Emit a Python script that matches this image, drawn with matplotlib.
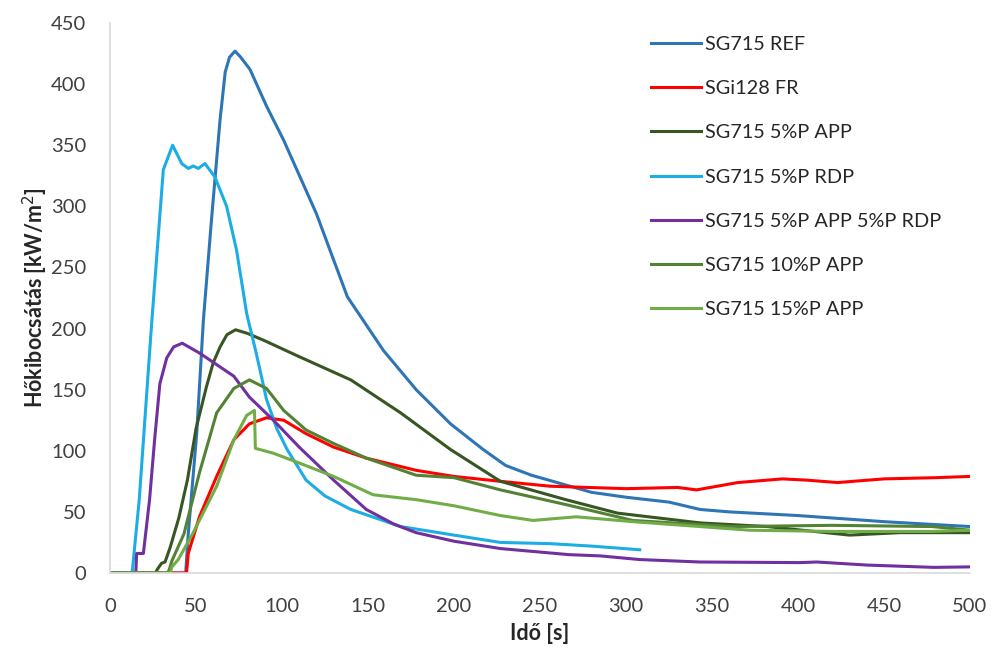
import matplotlib.pyplot as plt

plt.rcParams['font.family'] = ['Lato', 'DejaVu Sans']

# SG715 REF
ref_t = [0, 44, 45.5, 50.4, 54.3, 59, 64, 67, 69.5, 72.7, 76, 81.4, 91, 101, 120, 138, 159, 178, 198,
         217, 230, 245, 260, 280, 300, 325, 343, 360, 400, 450, 500]
ref_q = [0, 0, 32, 114, 207, 289, 371, 410, 422, 427, 422, 412, 382, 354, 294, 226, 182, 150, 122,
         101, 88, 80, 74, 66, 62, 58, 52, 50, 47, 42, 38]

# SGi128 FR
fr_t = [0, 44.5, 45.5, 52, 62, 72, 81, 91, 101, 114, 130, 149, 178, 200, 227, 256, 300, 330, 341,
        365, 391, 405, 423, 450, 480, 500]
fr_q = [0, 0, 16, 46, 79, 109, 122, 127, 125, 114, 103, 94, 84, 79, 75, 71, 69, 70, 68,
        74, 77, 76, 74, 77, 78, 79]

# SG715 5%P APP
app5_t = [0, 26.5, 27.5, 30, 32, 35, 40, 45, 50, 56, 60, 64, 68, 73, 80, 90, 110, 140, 169, 198,
          227, 265, 295, 343, 382, 430, 459, 500]
app5_q = [0, 0, 3, 8, 9, 21, 45, 76, 118, 152, 172, 185, 195, 199, 196, 190, 177, 158, 131, 101,
          75, 60, 49, 41, 38, 31, 33, 33]

# SG715 5%P RDP
rdp_t = [0, 12.5, 13, 17, 24, 31, 36.4, 41.7, 45.5, 48.4, 51.3, 55.2, 61, 67.8, 73.6, 79.5, 85, 91,
         97, 103, 114, 125, 140, 169, 200, 227, 256, 280, 308]
rdp_q = [0, 0, 2, 60, 200, 330, 350, 335, 331, 333, 331, 335, 324, 300, 264, 212, 180, 142,
         118, 101, 76, 63, 52, 38, 31, 25, 24, 22, 19]

# SG715 5%P APP 5%P RDP
mix_t = [0, 15, 15.5, 19.4, 23, 26, 29, 33, 37, 42, 52, 72, 81, 95, 110, 130, 149, 165, 178, 200,
         227, 267, 285, 308, 343, 401, 411, 440, 479, 500]
mix_q = [0, 0, 16, 16, 60, 110, 155, 176, 185, 188, 180, 161, 144, 125, 103, 76, 52, 40, 33, 26,
         20, 15, 14, 11, 9, 8.5, 9, 6.5, 4.6, 5]

# SG715 10%P APP
app10_t = [0, 33.5, 34.5, 36, 43, 52, 62, 72, 81, 91, 101, 114, 130, 149, 178, 200, 227, 265, 304,
           362, 420, 478, 500]
app10_q = [0, 0, 3, 10, 32, 82, 131, 151, 158, 151, 133, 117, 106, 94, 80, 78, 68, 56, 43,
           38, 39, 38, 35]

# SG715 15%P APP
app15_t = [0, 35, 36, 39.7, 48, 62, 72, 79.5, 84, 84.5, 95, 110, 130, 153, 178, 200, 227, 246, 271,
           304, 343, 372, 420, 478, 500]
app15_q = [0, 0, 5, 11, 32, 71, 109, 129, 133, 102, 98, 90, 79, 64, 60, 55, 47, 43, 46,
           42, 38, 35, 34, 34, 35]

series = [
    (ref_t, ref_q, 'SG715 REF', '#2E75B6'),
    (fr_t, fr_q, 'SGi128 FR', '#FF0000'),
    (app5_t, app5_q, 'SG715 5%P APP', '#375623'),
    (rdp_t, rdp_q, 'SG715 5%P RDP', '#1CADE4'),
    (mix_t, mix_q, 'SG715 5%P APP 5%P RDP', '#7030A0'),
    (app10_t, app10_q, 'SG715 10%P APP', '#548235'),
    (app15_t, app15_q, 'SG715 15%P APP', '#70AD47'),
]

fig = plt.figure(figsize=(9.92, 6.5), dpi=100)
ax = fig.add_axes([110 / 992, 77 / 650, 860 / 992, 550 / 650])

for t, q, name, col in series:
    ax.plot(t, q, color=col, lw=2.2, label=name, solid_joinstyle='round')

ax.set_xlim(0, 500)
ax.set_ylim(0, 450)
ax.set_xticks(range(0, 501, 50))
ax.set_yticks(range(0, 451, 50))
ax.tick_params(length=0, labelsize=14.5, colors='#404040')
ax.tick_params(axis='y', pad=17)
ax.tick_params(axis='x', pad=18)
for s in ['top', 'right']:
    ax.spines[s].set_visible(False)
for s in ['left', 'bottom']:
    ax.spines[s].set_color('#D9D9D9')
    ax.spines[s].set_linewidth(1.2)

ax.set_xlabel('Idő [s]', fontsize=15.5, fontweight='bold', color='#262626', labelpad=6)
ax.set_ylabel('Hőkibocsátás [kW/m$^2$]', fontsize=15.5, fontweight='bold', color='#262626', labelpad=1)

ax.legend(loc='upper left', bbox_to_anchor=(633 / 992, 632 / 650), bbox_transform=fig.transFigure,
          frameon=False, fontsize=14.3, labelspacing=1.37, handlelength=2.5, handletextpad=0.25,
          labelcolor='#262626')

fig.savefig('out.png', dpi=100)
